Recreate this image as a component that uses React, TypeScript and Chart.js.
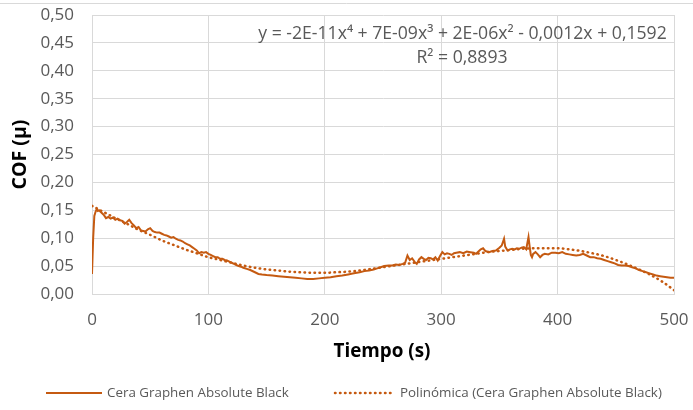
import React, { useEffect, useRef } from "react";
import { Chart, registerables } from "chart.js";

Chart.register(...registerables);

// ---------- data ----------
const rawTime = [
  0, 1, 2, 3, 4, 5, 6, 8, 10, 12, 14, 16, 18, 20, 22, 24, 26, 28, 30, 32, 34, 36, 38, 40, 42, 44, 46, 48, 50,
  52, 54, 56, 58, 60, 62, 64, 66, 68, 70, 72, 74, 76, 78, 80, 82, 84, 86, 88, 90, 92, 94, 96, 98, 100,
  102, 104, 106, 108, 110, 112, 114, 116, 118, 120, 122, 124, 126, 128, 130, 133, 136, 140, 143, 146, 150,
  155, 160, 165, 170, 175, 180, 185, 190, 195, 200, 205, 210, 215, 220, 225, 230, 234, 238, 242, 245, 248,
  251, 255, 258, 261, 264, 267, 269, 271, 273, 275, 277, 279, 281, 283, 285, 287, 289, 291, 293, 295, 297,
  299, 301, 303, 305, 307, 309, 311, 313, 316, 319, 322, 325, 328, 330, 332, 334, 336, 338, 341, 344, 347,
  350, 352, 354, 355, 357, 359, 361, 363, 365, 367, 369, 371, 373, 375, 376, 377, 378, 379, 381, 383, 385,
  387, 389, 392, 395, 398, 401, 404, 407, 410, 413, 416, 419, 422, 425, 428, 431, 434, 437, 440, 443, 446,
  449, 452, 455, 458, 461, 464, 467, 470, 473, 476, 479, 482, 485, 488, 491, 494, 497, 500,
];
const rawCof = [
  0.036, 0.1, 0.14, 0.147, 0.152, 0.149, 0.15, 0.146, 0.142, 0.136, 0.138, 0.135, 0.137, 0.133, 0.135, 0.132,
  0.131, 0.126, 0.129, 0.133, 0.127, 0.123, 0.118, 0.12, 0.114, 0.113, 0.112, 0.116, 0.118,
  0.113, 0.111, 0.11, 0.11, 0.108, 0.106, 0.105, 0.103, 0.101, 0.102, 0.099, 0.097, 0.096, 0.094, 0.091, 0.089,
  0.087, 0.084, 0.081, 0.078, 0.073, 0.075, 0.074, 0.075, 0.072,
  0.07, 0.068, 0.066, 0.066, 0.063, 0.063, 0.061, 0.06, 0.058, 0.056, 0.054, 0.052, 0.05, 0.049, 0.047, 0.045,
  0.043, 0.039, 0.036, 0.035, 0.034,
  0.033, 0.032, 0.031, 0.03, 0.029, 0.028, 0.027, 0.027, 0.028, 0.029, 0.03, 0.032, 0.033, 0.035, 0.037, 0.039,
  0.041, 0.042, 0.044, 0.046, 0.048,
  0.05, 0.051, 0.051, 0.053, 0.052, 0.054, 0.056, 0.069, 0.061, 0.064, 0.058, 0.054, 0.062, 0.066, 0.063, 0.061,
  0.065, 0.064, 0.062, 0.066, 0.06,
  0.068, 0.075, 0.071, 0.073, 0.072, 0.07, 0.073, 0.074, 0.075, 0.073, 0.076, 0.075, 0.074, 0.072, 0.076, 0.08,
  0.082, 0.077, 0.075, 0.077, 0.078,
  0.083, 0.087, 0.099, 0.085, 0.078, 0.08, 0.081, 0.08, 0.082, 0.081, 0.083, 0.084, 0.08, 0.102, 0.085, 0.07,
  0.066, 0.072, 0.075, 0.071, 0.066,
  0.07, 0.072, 0.071, 0.074, 0.074, 0.073, 0.075, 0.072, 0.071, 0.07, 0.069, 0.07, 0.072, 0.069, 0.066, 0.066,
  0.064, 0.063, 0.061, 0.059, 0.057,
  0.055, 0.052, 0.051, 0.051, 0.05, 0.048, 0.046, 0.043, 0.041, 0.039, 0.037, 0.035, 0.033, 0.032, 0.031, 0.03,
  0.029, 0.029,
];

const trendTime = [
  0, 10, 20, 30, 40, 50, 60, 70, 80, 90, 100, 110, 120, 130, 140, 150, 160, 170, 180, 190, 200, 210, 220, 230,
  240, 250, 260, 270, 280, 290, 300, 310, 320, 330, 340, 350, 360, 370, 380, 390, 400, 410, 420, 430, 440, 450,
  460, 470, 480, 490, 500,
];
const trendCof = [
  0.158, 0.147, 0.136, 0.126, 0.115, 0.106, 0.096, 0.088, 0.08, 0.073, 0.066, 0.061, 0.056, 0.051, 0.047, 0.044,
  0.042, 0.04, 0.039, 0.038, 0.038, 0.039, 0.04, 0.042, 0.045, 0.048, 0.051, 0.054, 0.057, 0.06, 0.063, 0.066,
  0.069, 0.072, 0.075, 0.077, 0.079, 0.081, 0.082, 0.082, 0.082, 0.08, 0.077, 0.073, 0.068, 0.061, 0.053, 0.044,
  0.034, 0.022, 0.007,
];

const xMin = 0;
const xMax = 500;
const xStep = 100;
const yMin = 0;
const yMax = 0.5;
const yStep = 0.05;

const xTitle = "Tiempo (s)";
const yTitle = "COF (μ)";
const seriesName = "Cera Graphen Absolute Black";
const trendName = "Polinómica (Cera Graphen Absolute Black)";
const equationText = "y = -2E-11x⁴ + 7E-09x³ + 2E-06x² - 0,0012x + 0,1592";
const rSquaredText = "R² = 0,8893";

// ---------- styles ----------
const BROWN = "#C55A11";
const GRID = "#D9D9D9";
const LABEL = "#595959";
const FAMILY = "'Open Sans', 'Liberation Sans', sans-serif";
const DOTS = [0.5, 4.5];

function fitFont(ctx: CanvasRenderingContext2D, text: string, weight: string, target: number) {
  ctx.font = `${weight} 20px ${FAMILY}`;
  const w = ctx.measureText(text).width;
  const size = (20 * target) / w;
  ctx.font = `${weight} ${size.toFixed(2)}px ${FAMILY}`;
}

const decorPlugin = {
  id: "decor",
  beforeDraw(chart: any) {
    const ctx = chart.ctx as CanvasRenderingContext2D;
    ctx.save();
    ctx.fillStyle = "#ffffff";
    ctx.fillRect(0, 0, chart.width, chart.height);
    ctx.strokeStyle = GRID;
    ctx.lineWidth = 1;
    ctx.beginPath();
    ctx.moveTo(0, 3.5);
    ctx.lineTo(chart.width, 3.5);
    ctx.stroke();
    ctx.restore();
  },
  afterDraw(chart: any) {
    const ctx = chart.ctx as CanvasRenderingContext2D;
    const area = chart.chartArea;
    ctx.save();
    ctx.textBaseline = "middle";

    // trendline label
    ctx.fillStyle = LABEL;
    ctx.textAlign = "center";
    fitFont(ctx, equationText, "normal", 409);
    ctx.fillText(equationText, 462.5, 34);
    ctx.fillText(rSquaredText, 462, 58);

    // axis titles
    ctx.fillStyle = "#000000";
    fitFont(ctx, xTitle, "bold", 97);
    ctx.fillText(xTitle, (area.left + area.right) / 2 - 1, 352);
    ctx.save();
    fitFont(ctx, yTitle, "bold", 70);
    ctx.translate(20, (area.top + area.bottom) / 2);
    ctx.rotate(-Math.PI / 2);
    ctx.fillText(yTitle, 0, 0);
    ctx.restore();

    // legend
    const ly = 393;
    ctx.strokeStyle = BROWN;
    ctx.lineWidth = 2;
    ctx.beginPath();
    ctx.moveTo(46, ly);
    ctx.lineTo(102, ly);
    ctx.stroke();

    ctx.lineWidth = 2.5;
    ctx.lineCap = "round";
    ctx.setLineDash(DOTS);
    ctx.beginPath();
    ctx.moveTo(335, ly);
    ctx.lineTo(392, ly);
    ctx.stroke();
    ctx.setLineDash([]);

    ctx.fillStyle = LABEL;
    ctx.textAlign = "left";
    fitFont(ctx, seriesName, "normal", 182);
    ctx.fillText(seriesName, 107, ly);
    fitFont(ctx, trendName, "normal", 262);
    ctx.fillText(trendName, 400, ly);
    ctx.restore();
  },
};

export default function App() {
  const canvasRef = useRef<HTMLCanvasElement | null>(null);

  useEffect(() => {
    const canvas = canvasRef.current;
    if (!canvas) return;
    const rawData = rawTime.map((t, i) => ({ x: t, y: rawCof[i] }));
    const trendData = trendTime.map((t, i) => ({ x: t, y: trendCof[i] }));

    const chart = new Chart(canvas, {
      type: "line",
      data: {
        datasets: [
          {
            label: seriesName,
            data: rawData,
            borderColor: BROWN,
            backgroundColor: BROWN,
            borderWidth: 2,
            pointRadius: 0,
            tension: 0,
            fill: false,
          },
          {
            label: trendName,
            data: trendData,
            borderColor: BROWN,
            backgroundColor: BROWN,
            borderWidth: 2.5,
            borderDash: DOTS,
            borderCapStyle: "round",
            pointRadius: 0,
            tension: 0.4,
            cubicInterpolationMode: "monotone",
            fill: false,
          },
        ],
      },
      options: {
        animation: false,
        responsive: false,
        maintainAspectRatio: false,
        devicePixelRatio: 1,
        layout: { padding: { top: 15, right: 19, bottom: 40, left: 0 } },
        plugins: {
          legend: { display: false },
          tooltip: { enabled: false },
          title: { display: false },
        },
        scales: {
          x: {
            type: "linear",
            min: xMin,
            max: xMax,
            ticks: {
              stepSize: xStep,
              color: LABEL,
              padding: 0,
              maxRotation: 0,
              font: { family: FAMILY, size: 17 },
            },
            grid: { color: GRID, lineWidth: 1, drawTicks: true, tickLength: 16, tickColor: "rgba(0,0,0,0)" },
            border: { color: GRID, width: 1 },
            afterFit: (s: any) => {
              s.height = 76;
            },
          },
          y: {
            type: "linear",
            min: yMin,
            max: yMax,
            ticks: {
              stepSize: yStep,
              color: LABEL,
              padding: 0,
              font: { family: FAMILY, size: 17 },
              callback: (v: any) => Number(v).toFixed(2).replace(".", ","),
            },
            grid: { color: GRID, lineWidth: 1, drawTicks: true, tickLength: 18, tickColor: "rgba(0,0,0,0)" },
            border: { color: GRID, width: 1 },
            afterFit: (s: any) => {
              s.width = 92;
            },
          },
        },
      },
      plugins: [decorPlugin],
    } as any);

    return () => {
      chart.destroy();
    };
  }, []);

  return (
    <div
      style={{
        position: "fixed",
        left: 0,
        top: 0,
        width: 693,
        height: 410,
        background: "#ffffff",
      }}
    >
      <canvas ref={canvasRef} width={693} height={410} style={{ width: 693, height: 410, display: "block" }} />
    </div>
  );
}
